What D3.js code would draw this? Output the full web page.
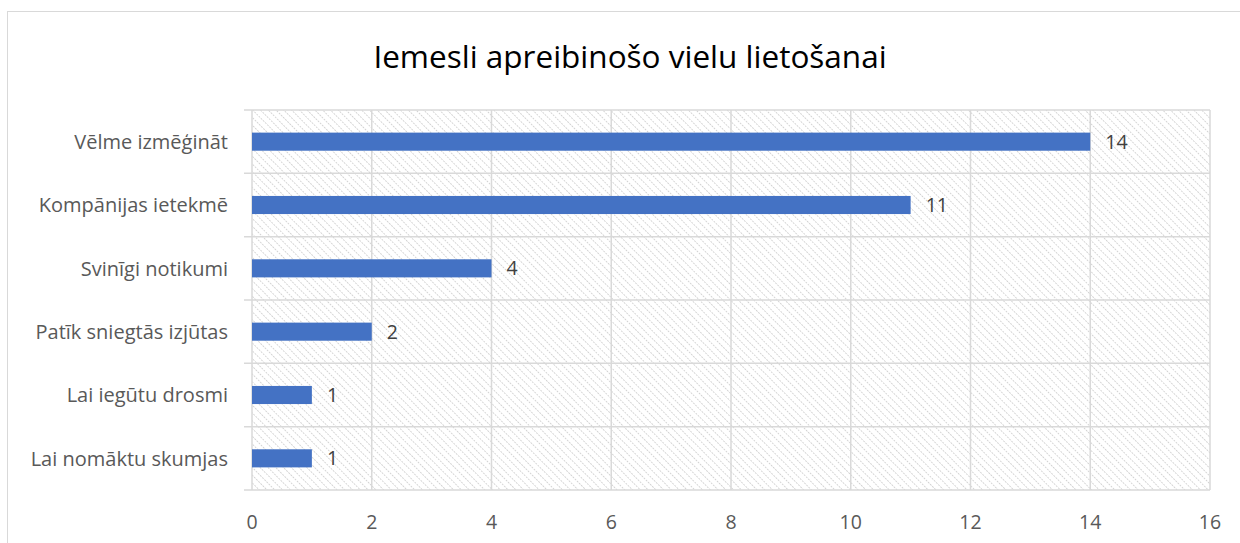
<!DOCTYPE html>
<html>
<head>
<meta charset="utf-8">
<script src="https://cdn.jsdelivr.net/npm/d3@7"></script>
<style>
  body { margin: 0; background: #fff; }
  text { font-family: "Open Sans", sans-serif; }
</style>
</head>
<body>
<div id="chart"></div>
<script>
// data
const categories = ["Vēlme izmēģināt", "Kompānijas ietekmē", "Svinīgi notikumi",
    "Patīk sniegtās izjūtas", "Lai iegūtu drosmi", "Lai nomāktu skumjas"];
const values = [14, 11, 4, 2, 1, 1];
const xTicks = [0, 2, 4, 6, 8, 10, 12, 14, 16];
const title = "Iemesli apreibinošo vielu lietošanai";

const width = 1240, height = 543;
const margin = { top: 110, right: 30, bottom: 53, left: 252 };
const plotW = 1210 - margin.left, plotH = 490 - margin.top;

const svg = d3.select("#chart").append("svg")
    .attr("width", width).attr("height", height);

// hatch pattern for plot background
const defs = svg.append("defs");
const pat = defs.append("pattern")
    .attr("id", "hatch")
    .attr("patternUnits", "userSpaceOnUse")
    .attr("width", 5.5).attr("height", 6)
    .attr("patternTransform", "rotate(-45)");
pat.append("line")
    .attr("x1", 0).attr("y1", 0).attr("x2", 0).attr("y2", 6)
    .style("stroke", "#d4d4d4")
    .style("stroke-width", 1.8)
    .style("stroke-dasharray", "2,1");

// outer chart border
svg.append("rect")
    .attr("x", 7.5).attr("y", 11.5)
    .attr("width", 1260).attr("height", 560)
    .style("fill", "none").style("stroke", "#d9d9d9");

svg.append("text")
    .attr("x", 630).attr("y", 68)
    .attr("text-anchor", "middle")
    .style("font-size", "31.5px")
    .style("fill", "#000")
    .text(title);

const g = svg.append("g")
    .attr("transform", `translate(${margin.left},${margin.top})`);

const x = d3.scaleLinear().domain([0, 16]).range([0, plotW]);
const y = d3.scaleBand().domain(categories).range([0, plotH])
    .paddingInner(2.5 / 3.5).paddingOuter(1.25 / 3.5);

g.append("rect")
    .attr("width", plotW).attr("height", plotH)
    .style("fill", "url(#hatch)");

// vertical gridlines
g.selectAll(".vgrid")
    .data(xTicks)
    .enter()
    .append("line")
    .attr("x1", d => x(d)).attr("x2", d => x(d))
    .attr("y1", 0).attr("y2", plotH)
    .style("stroke", "#d9d9d9").style("stroke-width", 1.5);

// horizontal category lines (with small ticks left of axis)
const step = plotH / categories.length;
g.selectAll(".hgrid")
    .data(d3.range(categories.length + 1))
    .enter()
    .append("line")
    .attr("x1", -8).attr("x2", plotW)
    .attr("y1", d => d * step).attr("y2", d => d * step)
    .style("stroke", "#d9d9d9").style("stroke-width", 1.5);

// bars
g.selectAll(".bar")
    .data(values)
    .enter()
    .append("rect")
    .attr("x", 0)
    .attr("y", (d, i) => y(categories[i]))
    .attr("width", d => x(d))
    .attr("height", y.bandwidth())
    .style("fill", "#4472c4");

// value labels
g.selectAll(".val")
    .data(values)
    .enter()
    .append("text")
    .attr("x", d => x(d) + 15)
    .attr("y", (d, i) => y(categories[i]) + y.bandwidth() / 2)
    .attr("dy", "0.36em")
    .style("font-size", "19.5px")
    .style("fill", "#404040")
    .text(d => d);

// category labels
g.selectAll(".cat")
    .data(categories)
    .enter()
    .append("text")
    .attr("x", -24)
    .attr("y", d => y(d) + y.bandwidth() / 2)
    .attr("dy", "0.36em")
    .attr("text-anchor", "end")
    .style("font-size", "20px")
    .style("fill", "#595959")
    .text(d => d);

// x tick labels
g.selectAll(".xt")
    .data(xTicks)
    .enter()
    .append("text")
    .attr("x", d => x(d))
    .attr("y", plotH + 39)
    .attr("text-anchor", "middle")
    .style("font-size", "19.5px")
    .style("fill", "#595959")
    .text(d => d);
</script>
</body>
</html>
